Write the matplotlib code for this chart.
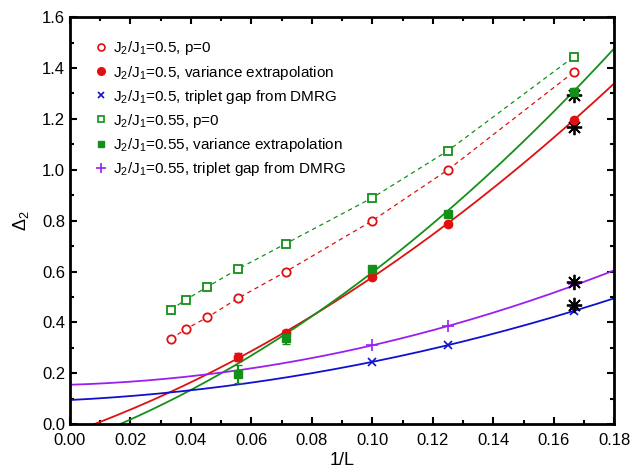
import matplotlib
matplotlib.use('Agg')
import matplotlib.pyplot as plt
from matplotlib.ticker import MultipleLocator, FormatStrFormatter
from matplotlib.lines import Line2D
import numpy as np

plt.rcParams['font.family'] = ['Liberation Sans', 'DejaVu Sans']
plt.rcParams['mathtext.fontset'] = 'custom'
plt.rcParams['mathtext.rm'] = 'Liberation Sans'
plt.rcParams['mathtext.it'] = 'Liberation Sans:italic'

# 1/L values
inv_L_p0 = [1/30, 1/26, 1/22, 1/18, 1/14, 1/10, 1/8, 1/6]
inv_L_var = [1/18, 1/14, 1/10, 1/8, 1/6]
inv_L_dmrg = [1/10, 1/8, 1/6]

# J2/J1 = 0.5
p0_05 = [0.335, 0.375, 0.42, 0.495, 0.60, 0.80, 1.00, 1.385]
var_05 = [0.263, 0.358, 0.578, 0.785, 1.195]
var_05_err = [0.015, 0.012, 0.008, 0.006, 0.005]
dmrg_05 = [0.245, 0.31, 0.445]

# J2/J1 = 0.55
p0_055 = [0.45, 0.49, 0.54, 0.61, 0.71, 0.89, 1.075, 1.445]
var_055 = [0.197, 0.338, 0.609, 0.825, 1.305]
var_055_err = [0.035, 0.022, 0.01, 0.008, 0.006]
dmrg_055 = [0.31, 0.385, 0.55]

# quadratic fit coefficients (c0, c1, c2)
fit_var_05 = [-0.0352, 4.247, 18.85]
fit_var_055 = [-0.0790, 4.40, 23.6]
fit_dmrg_05 = [0.095, 0.597, 9.03]
fit_dmrg_055 = [0.155, 0.3625, 11.875]

# black asterisks at L=6
star_x = [1/6, 1/6, 1/6, 1/6]
star_y = [1.17, 1.295, 0.56, 0.47]

labels = ['J$_2$/J$_1$=0.5, p=0',
          'J$_2$/J$_1$=0.5, variance extrapolation',
          'J$_2$/J$_1$=0.5, triplet gap from DMRG',
          'J$_2$/J$_1$=0.55, p=0',
          'J$_2$/J$_1$=0.55, variance extrapolation',
          'J$_2$/J$_1$=0.55, triplet gap from DMRG']

red = '#e01010'
green = '#14901a'
blue = '#1010d0'
purple = '#9b20f0'

fig = plt.figure(figsize=(6.39, 4.75), dpi=100)
ax = fig.add_axes([0.1095, 0.107, 0.852, 0.857])

xs = np.linspace(0, 0.18, 200)

for coef, c in [(fit_var_05, red), (fit_var_055, green),
                (fit_dmrg_05, blue), (fit_dmrg_055, purple)]:
    ys = coef[0] + coef[1]*xs + coef[2]*xs**2
    ax.plot(xs, ys, '-', color=c, lw=1.3)

ax.plot(inv_L_p0, p0_05, '--', color=red, lw=0.9, dashes=(3.5, 3))
ax.plot(inv_L_p0, p0_055, '--', color=green, lw=0.9, dashes=(3.5, 3))

ax.errorbar(inv_L_p0, p0_05, yerr=0.006, fmt='o', mfc='white', mec=red, ecolor=red,
            ms=6, mew=1.3, capsize=2)
ax.errorbar(inv_L_var, var_05, yerr=var_05_err, fmt='o', color=red, ecolor=red,
            ms=6, capsize=3)
ax.plot(inv_L_dmrg, dmrg_05, 'x', color=blue, ms=6, mew=1.2, ls='none')
ax.errorbar(inv_L_p0, p0_055, yerr=0.006, fmt='s', mfc='white', mec=green, ecolor=green,
            ms=5.5, mew=1.3, capsize=2)
ax.errorbar(inv_L_var, var_055, yerr=var_055_err, fmt='s', color=green, ecolor=green,
            ms=6, capsize=3)
ax.plot(inv_L_dmrg, dmrg_055, '+', color=purple, ms=8, mew=1.2, ls='none')

ax.plot(star_x, star_y, marker=(8, 2, 0), color='black', ms=11, mew=1.3, ls='none')

ax.set_xlim(0, 0.18)
ax.set_ylim(0, 1.6)
ax.xaxis.set_major_locator(MultipleLocator(0.02))
ax.xaxis.set_minor_locator(MultipleLocator(0.01))
ax.xaxis.set_major_formatter(FormatStrFormatter('%.2f'))
ax.yaxis.set_major_locator(MultipleLocator(0.2))
ax.yaxis.set_minor_locator(MultipleLocator(0.1))
ax.yaxis.set_major_formatter(FormatStrFormatter('%.1f'))
ax.tick_params(which='both', direction='in', top=True, right=True, labelsize=12, width=1.5)
ax.tick_params(which='major', length=5)
ax.tick_params(which='minor', length=3)
ax.tick_params(axis='x', pad=6)
for s in ax.spines.values():
    s.set_linewidth(2)

ax.set_xlabel('1/L', fontsize=13, labelpad=3)
ax.set_ylabel(r'$\Delta_2$', fontsize=13, labelpad=8)

handles = [
    Line2D([], [], ls='none', marker='o', mfc='white', mec=red, mew=1.2, ms=5),
    Line2D([], [], ls='none', marker='o', color=red, ms=5.5),
    Line2D([], [], ls='none', marker='x', color=blue, mew=1.2, ms=5),
    Line2D([], [], ls='none', marker='s', mfc='white', mec=green, mew=1.2, ms=4.5),
    Line2D([], [], ls='none', marker='s', color=green, ms=5),
    Line2D([], [], ls='none', marker='+', color=purple, mew=1.2, ms=7),
]
leg = ax.legend(handles=handles, labels=labels,
                loc='upper left', frameon=False, fontsize=11, handlelength=0.8,
                handletextpad=0.4, labelspacing=0.4, borderaxespad=0,
                bbox_to_anchor=(0.035, 0.96))

fig.savefig('out.png', dpi=100)
